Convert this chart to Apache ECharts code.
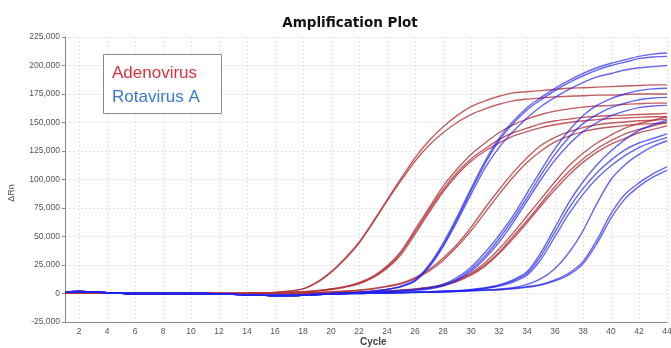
<!DOCTYPE html>
<html>
<head>
<meta charset="utf-8">
<script src="https://cdn.jsdelivr.net/npm/echarts@6/dist/echarts.min.js"></script>
<style>
html,body{margin:0;padding:0;background:#fff;}
#chart{width:671px;height:348px;}
</style>
</head>
<body>
<div id="chart"></div>
<script>
// Cycle numbers (x categories)
const cycles = [1,2,3,4,5,6,7,8,9,10,11,12,13,14,15,16,17,18,19,20,21,22,23,24,25,26,27,28,29,30,31,32,33,34,35,36,37,38,39,40,41,42,43,44];
// Y tick values (thousands of ΔRn)
const yTicks = [-25,0,25,50,75,100,125,150,175,200,225];

// Adenovirus curves (ΔRn, thousands), cycles 1..44
const adenoR1a = [0.5,0.5,0.4,0.3,0.1,0,0,0,0,0,0,0,0,0.1, 0.5,1,2,4,10,19,31,45,63,82, 101,119,134,146,156,164,169,173,176,177, 178,179,180,180.5,181,181.5,182,182.5,183,183];
const adenoR1b = [0.5,0.5,0.4,0.3,0.1,0,0,0,0,0,0,0,0,0.1, 0.5,1,2,4,9.5,18.5,30,44,62,81, 99,116,130,141,150,157,162,166,169,170.5, 171.5,172.5,173,173.5,174,174,174.5,175,175,175];
const adenoR2a = [0.5,0.5,0.4,0.3,0.1,0,0,0,0,0,0,0,0,0.1, 0.3,0.5,1,1.5,2.5,4,6,9.5,15,24, 37,56,75,94,109,122,132,141,148,153, 157,160,162,163.5,164.5,165,166,166.5,167,167];
const adenoR2b = [0.5,0.5,0.4,0.3,0.1,0,0,0,0,0,0,0,0,0.1, 0.3,0.5,1,1.5,2.5,4,6,9,14.5,23, 36,54,73,91,106,118,127,135,141,145, 149,151.5,153,154.5,155.5,156,156.5,157,157.5,158];
const adenoR2c = [0.5,0.5,0.4,0.3,0.1,0,0,0,0,0,0,0,0,0.1, 0.3,0.5,0.8,1.3,2.2,3.5,5.5,8.5,14,22, 34,52,71,89,104,116,125,132,138,142, 145.5,148,150,151.5,152.5,153.5,154,154.5,155,155];
const adenoR3a = [0.5,0.5,0.4,0.3,0.1,0,0,0,0,0,0,0,0,0.1, 0.3,0.4,0.5,0.7,1,1.5,2.2,3,4.5,6.5, 9,14,21,31,43,58,75,91,106,119, 130,137,142,145.5,148,149.5,150.5,151.5,152,153];
const adenoR3b = [0.5,0.5,0.4,0.3,0.1,0,0,0,0,0,0,0,0,0.1, 0.3,0.4,0.5,0.7,1,1.4,2,2.8,4,6, 8.5,13,19.5,29,41,55,71,87,102,115, 125,133,138,142,144.5,146,147.5,148.5,149,150];
const adenoR4a = [0.5,0.5,0.4,0.3,0.1,0,0,0,0,0,0,0,0,0.1, 0.2,0.2,0.3,0.4,0.5,0.7,1,1.3,1.7,2.2, 3,4,5.5,8,12,18,27,39,53,68, 83,98,112,123,132,139,145,149,152,155];
const adenoR4b = [0.5,0.5,0.4,0.3,0.1,0,0,0,0,0,0,0,0,0.1, 0.2,0.2,0.3,0.4,0.5,0.7,1,1.3,1.7,2.1, 2.8,3.8,5,7.5,11,17,25,36,50,64, 79,94,107,118,127,134,140,144,147,150];
const adenoR4c = [0.5,0.5,0.4,0.3,0.1,0,0,0,0,0,0,0,0,0.1, 0.2,0.2,0.3,0.4,0.5,0.6,0.9,1.2,1.6,2, 2.7,3.6,5,7,10.5,16,24,35,48,62, 77,91,104,115,124,131,136,141,144,147];

// Rotavirus A curves (ΔRn, thousands), cycles 1..44
const rotaB1a = [1.5,1.8,1.4,0.8,0.3,0,0,0,0,0,0,-0.4,-0.8,-1.2, -1.5,-1.8,-1.8,-1.2,-0.5,0,0.5,1,2,3.5, 6.5,12,25,44,67,92,116,136,151,163, 172,180,187,193,198,202,205,208,210,211];
const rotaB1b = [1.5,1.8,1.4,0.8,0.3,0,0,0,0,0,0,-0.4,-0.8,-1.2, -1.5,-1.8,-1.8,-1.2,-0.5,0,0.5,1,2,3.5, 6,11,24,42,65,90,114,134,149,161, 170,178,185,191,196,200,203,206,207.5,208];
const rotaB1c = [1.5,1.8,1.4,0.8,0.3,0,0,0,0,0,0,-0.4,-0.8,-1.2, -1.5,-1.8,-1.8,-1.2,-0.5,0,0.5,1,2,3.5, 6,11,23,41,63,87,110,128,142,154, 164,172,179,185,190,193,196,198,199,200];
const rotaB2a = [1.5,1.8,1.4,0.8,0.3,0,0,0,0,0,0,-0.4,-0.8,-1.2, -1.5,-1.8,-1.8,-1.5,-1,-0.5,0,0.5,1,1.5, 2.5,3.5,5,8,14,23,36,51,68,88, 108,127,143,156,165,171,175,178,179.5,180];
const rotaB2b = [1.5,1.8,1.4,0.8,0.3,0,0,0,0,0,0,-0.4,-0.8,-1.2, -1.5,-1.8,-1.8,-1.5,-1,-0.5,0,0.5,1,1.5, 2.3,3,4.5,7,12.5,21,33,48,65,84, 104,122,137,149,157,163,167,170,171.5,172];
const rotaB2c = [1.5,1.8,1.4,0.8,0.3,0,0,0,0,0,0,-0.4,-0.8,-1.2, -1.5,-1.8,-1.8,-1.5,-1,-0.5,0,0.5,1,1.5, 2.2,3,4,6.5,11.5,19.5,31,45,62,81, 100,117,131,142,150,156,160,163,164.5,165];
const rotaB3a = [1.5,1.8,1.4,0.8,0.3,0,0,0,0,0,0,-0.4,-0.8,-1.2, -1.5,-1.8,-1.8,-1.5,-1,-0.5,0,0.3,0.5,0.8, 1,1.2,1.5,2,2.5,3.5,5,7.5,12,19, 36,58,80,98,113,125,135,143,148,152];
const rotaB3b = [1.5,1.8,1.4,0.8,0.3,0,0,0,0,0,0,-0.4,-0.8,-1.2, -1.5,-1.8,-1.8,-1.5,-1,-0.5,0,0.3,0.5,0.8, 1,1.2,1.5,2,2.4,3.2,4.6,7,11,17.5, 33,54,75,92,106,117,126,132,136,140];
const rotaB3c = [1.5,1.8,1.4,0.8,0.3,0,0,0,0,0,0,-0.4,-0.8,-1.2, -1.5,-1.8,-1.8,-1.5,-1,-0.5,0,0.3,0.5,0.8, 1,1.1,1.4,1.8,2.2,3,4.3,6.5,10,16, 30,50,70,87,101,112,121,128,133,137];
const rotaB4a = [1.5,1.8,1.4,0.8,0.3,0,0,0,0,0,0,-0.4,-0.8,-1.2, -1.5,-1.8,-1.8,-1.5,-1,-0.5,0,0,0.3,0.5, 0.7,1,1.2,1.5,2,2.5,3,3.5,4.5,6, 8,12,18,28,47,70,87,97,105,111];
const rotaB4b = [1.5,1.8,1.4,0.8,0.3,0,0,0,0,0,0,-0.4,-0.8,-1.2, -1.5,-1.8,-1.8,-1.5,-1,-0.5,0,0,0.3,0.5, 0.7,0.9,1.1,1.4,1.8,2.3,2.8,3.3,4.2,5.5, 7.5,11,16.5,26,44,66,83,94,102,108];
const rotaB4c = [1.5,1.8,1.4,0.8,0.3,0,0,0,0,0,0,-0.4,-0.8,-1.2, -1.5,-1.8,-1.8,-1.5,-1,-0.5,0,0,0.3,0.5, 0.7,1,1.2,1.5,2,2.5,3,3.8,5,8, 13,22,36,55,79,100,113,122,129,134];

const adenoCurves = [adenoR1a, adenoR1b, adenoR2a, adenoR2b, adenoR2c, adenoR3a, adenoR3b, adenoR4a, adenoR4b, adenoR4c];
const rotaCurves = [rotaB1a, rotaB1b, rotaB1c, rotaB2a, rotaB2b, rotaB2c, rotaB3a, rotaB3b, rotaB3c, rotaB4a, rotaB4b, rotaB4c];

const RED = '#b3353b';
const BLUE = '#2424ee';

const series = [];
adenoCurves.forEach(function (d, i) {
  series.push({
    name: 'Adenovirus', type: 'line', data: d, smooth: 0.3, symbol: 'none',
    lineStyle: { color: RED, width: 1.4, opacity: 0.8 }, silent: true, z: 2
  });
});
rotaCurves.forEach(function (d, i) {
  series.push({
    name: 'Rotavirus A', type: 'line', data: d, smooth: 0.3, symbol: 'none',
    lineStyle: { color: BLUE, width: 1.4, opacity: 0.7 }, silent: true, z: 3
  });
});

const chart = echarts.init(document.getElementById('chart'), null, { renderer: 'canvas' });
chart.setOption({
  animation: false,
  backgroundColor: '#fff',
  title: {
    text: 'Amplification Plot',
    left: 345, top: 11, textAlign: 'center',
    textStyle: { fontFamily: 'DejaVu Sans', fontWeight: 'bold', fontSize: 13.5, color: '#111' }
  },
  grid: { left: 65, right: 4, top: 37, bottom: 26, containLabel: false, outerBoundsMode: 'none' },
  xAxis: {
    type: 'category',
    data: cycles,
    boundaryGap: false,
    axisLine: { onZero: false, lineStyle: { color: '#888', width: 1 } },
    axisTick: { show: false },
    axisLabel: {
      interval: function (idx) { return idx % 2 === 1; },
      fontSize: 8.5, color: '#555', margin: 5, fontFamily: 'Liberation Sans'
    },
    splitLine: {
      show: true,
      interval: function (idx) { return idx % 2 === 1; },
      lineStyle: { color: '#e2e2e2', type: [2, 2], width: 1 }
    }
  },
  yAxis: {
    type: 'value',
    min: yTicks[0], max: yTicks[yTicks.length - 1], interval: 25,
    axisLine: { show: true, lineStyle: { color: '#888', width: 1 } },
    axisTick: { show: true, length: 3, lineStyle: { color: '#888' } },
    axisLabel: {
      formatter: function (v) { return (v * 1000).toLocaleString('en-US'); },
      fontSize: 8.5, color: '#555', margin: 5, fontFamily: 'Liberation Sans'
    },
    splitLine: { show: true, lineStyle: { color: '#e2e2e2', type: [2, 2], width: 1 } }
  },
  graphic: [
    { type: 'text', left: 360, top: 337,
      style: { text: 'Cycle', fontFamily: 'Liberation Sans', fontWeight: 'bold', fontSize: 10, fill: '#444' } },
    { type: 'text', x: 12, y: 193, rotation: Math.PI / 2,
      style: { text: 'ΔRn', fontFamily: 'Liberation Sans', fontSize: 9, fill: '#555', align: 'center', verticalAlign: 'middle' } },
    { type: 'rect', shape: { x: 103.5, y: 54.5, width: 118, height: 59 },
      style: { fill: '#fff', stroke: '#8a8a8a', lineWidth: 1 }, z: 10 },
    { type: 'text', x: 112, y: 73, z: 11,
      style: { text: 'Adenovirus', fontFamily: 'Liberation Sans', fontSize: 17, fill: '#d6333f', verticalAlign: 'middle' } },
    { type: 'text', x: 112, y: 97, z: 11,
      style: { text: 'Rotavirus A', fontFamily: 'Liberation Sans', fontSize: 17, fill: '#3a78c9', verticalAlign: 'middle' } }
  ],
  series: series
});
</script>
</body>
</html>
